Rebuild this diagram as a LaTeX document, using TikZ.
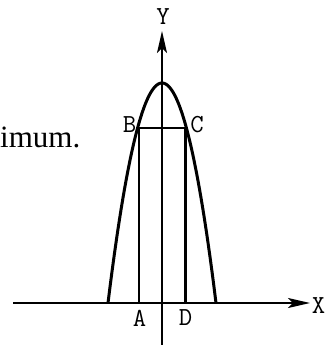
\documentclass[tikz,border=0pt]{standalone}
\usepackage{fontspec}
\setmainfont{Liberation Serif}
\usetikzlibrary{arrows.meta}
\begin{document}
\begin{tikzpicture}[x=1pt,y=-1pt,
  axis/.style={line width=2pt,-{Stealth[length=22pt,width=10pt,inset=5pt]}},
  curve/.style={line width=3pt},
  rect/.style={line width=2.6pt},
  lbl/.style={font=\fontsize{26}{26}\ttfamily,inner sep=0pt},
  txt/.style={font=\fontsize{31}{31}\selectfont,inner sep=0pt}]
\useasboundingbox (0,0) rectangle (326,345);
% axes
\coordinate (xs) at (13,303);
\coordinate (xe) at (310,303);
\coordinate (ys) at (162,345);
\coordinate (ye) at (162,31);
\draw[axis] (xs) -- (xe);
\draw[axis] (ys) -- (ye);
% parabola
\draw[curve] plot[domain=-54:54,samples=80] ({162+\x},{83+220*(\x/54)^2});
% rectangle
\coordinate (B) at (138.8,128);
\coordinate (C) at (185.2,128);
\coordinate (A) at (138.8,303);
\coordinate (D) at (185.2,303);
\draw[rect] (A) -- (B) -- (C) -- (D);
% labels
\node[lbl] (lB) at (129.5,125) {B};
\node[lbl] (lC) at (197,125) {C};
\node[lbl] (lA) at (139.5,318) {A};
\node[lbl] (lD) at (185.5,318) {D};
\node[lbl] (lY) at (163,17) {Y};
\node[lbl] (lX) at (318.5,306) {X};
\node[txt,anchor=base west] (t) at (0,147) {imum.};
\end{tikzpicture}
\end{document}
